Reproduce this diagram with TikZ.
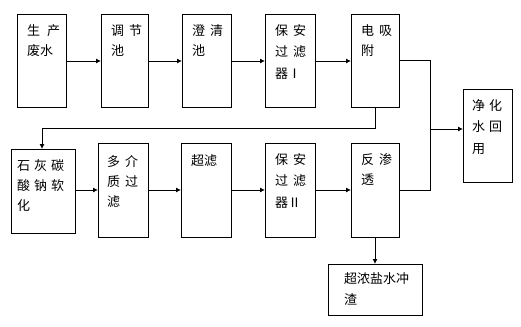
\documentclass[tikz,border=0pt]{standalone}
\usepackage{fontspec}
\newfontfamily\cjk{Noto Sans CJK SC}
\usetikzlibrary{arrows.meta}
\newcommand{\gapch}{\hspace{5pt}}
\begin{document}
\begin{tikzpicture}[x=1pt,y=-1pt,
  box/.style={draw,line width=0.9pt,inner sep=0pt,anchor=north west},
  txt/.style={inner sep=0pt,anchor=north west,align=left,font=\cjk\fontsize{13}{20}\selectfont},
  txtw/.style={inner sep=0pt,anchor=north west,align=left,font=\cjk\fontsize{13}{21.5}\selectfont},
  line/.style={line width=0.9pt},
  arr/.style={line width=0.9pt,-{Latex[length=5pt,width=5pt]}}]
\useasboundingbox (0,0) rectangle (521,326);
\fill[white] (0,0) rectangle (521,326);
% top row
\node[box,minimum width=49pt,minimum height=93pt] (b1) at (17,14) {};
\node[box,minimum width=47pt,minimum height=93pt] (b2) at (101,14) {};
\node[box,minimum width=49pt,minimum height=93pt] (b3) at (182,14) {};
\node[box,minimum width=50pt,minimum height=93pt] (b4) at (265,14) {};
\node[box,minimum width=48pt,minimum height=93pt] (b5) at (351,14) {};
% bottom row
\node[box,minimum width=64pt,minimum height=84pt] (b6) at (11,149) {};
\node[box,minimum width=50pt,minimum height=94pt] (b7) at (98,143) {};
\node[box,minimum width=50pt,minimum height=94pt] (b8) at (181,143) {};
\node[box,minimum width=50pt,minimum height=94pt] (b9) at (265,143) {};
\node[box,minimum width=48pt,minimum height=94pt] (b10) at (351,143) {};
% right and bottom
\node[box,minimum width=49pt,minimum height=93pt] (b11) at (463,89) {};
\node[box,minimum width=94pt,minimum height=51pt] (b12) at (328,264) {};
% texts
\node[txt] (t1) at ([shift={(10,10)}]b1.north west) {生\hspace{7pt}产\\废水};
\node[txt] (t2) at ([shift={(10,10)}]b2.north west) {调\gapch 节\\池};
\node[txt] (t3) at ([shift={(10,10)}]b3.north west) {澄\gapch 清\\池};
\node[txtw] (t4) at ([shift={(10,10)}]b4.north west) {保\gapch 安\\过\gapch 滤\\器Ⅰ};
\node[txt] (t5) at ([shift={(10,10)}]b5.north west) {电\gapch 吸\\附};
\node[txt] (t6) at ([shift={(6,10)}]b6.north west) {石\hspace{4pt}灰\hspace{4pt}碳\\酸\hspace{4pt}钠\hspace{4pt}软\\化};
\node[txt] (t7) at ([shift={(9,12)}]b7.north west) {多\gapch 介\\质\gapch 过\\滤};
\node[txt] (t8) at ([shift={(10,11)}]b8.north west) {超滤};
\node[txtw] (t9) at ([shift={(10,10)}]b9.north west) {保\gapch 安\\过\gapch 滤\\器Ⅱ};
\node[txt] (t10) at ([shift={(10,10)}]b10.north west) {反\gapch 渗\\透};
\node[txtw] (t11) at ([shift={(9,10)}]b11.north west) {净\hspace{4pt}化\\水\hspace{4pt}回\\用};
\node[txtw] (t12) at ([shift={(16,8)}]b12.north west) {超浓盐水冲\\渣};
% connectors top row
\draw[arr] (b1.east |- 0,61) -- (b2.west |- 0,61);
\draw[arr] (b2.east |- 0,61) -- (b3.west |- 0,61);
\draw[arr] (b3.east |- 0,61) -- (b4.west |- 0,61);
\draw[arr] (b4.east |- 0,61) -- (b5.west |- 0,61);
% bottom row
\draw[arr] (b6.east |- 0,190) -- (b7.west |- 0,190);
\draw[arr] (b7.east |- 0,190) -- (b8.west |- 0,190);
\draw[arr] (b8.east |- 0,190) -- (b9.west |- 0,190);
\draw[arr] (b9.east |- 0,190) -- (b10.west |- 0,190);
% joins to product
\coordinate (j) at (430,129);
\draw[line] (b5.east |- 0,60) -| (j);
\draw[line] (b10.east |- 0,190) -| (j);
\draw[arr] (j) -- (b11.west |- j);
% feedback loop
\coordinate (k) at (375,128);
\draw[arr] (b5.south -| k) -- (k) -| (b6.north -| 42,0);
% concentrate
\draw[arr] (b10.south -| k) -- (b12.north -| k);
\end{tikzpicture}
\end{document}
